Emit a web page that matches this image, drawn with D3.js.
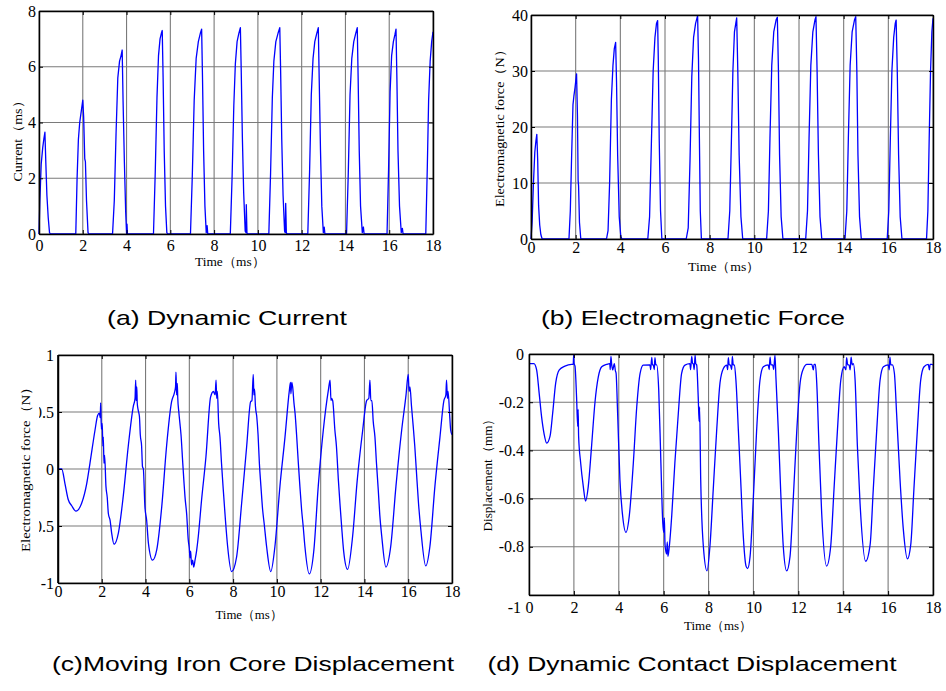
<!DOCTYPE html>
<html><head><meta charset="utf-8">
<script src="https://cdn.jsdelivr.net/npm/d3@7"></script>
<style>body{margin:0;background:#fff}svg{display:block}
.ser{font-family:"Liberation Serif","Times New Roman","DejaVu Serif",serif}
.san{font-family:"Liberation Sans",Arial,sans-serif}
</style>
</head><body>
<svg id="c" width="946" height="691"></svg>
<script>
// ---------- data ----------
const xTicks = [0,2,4,6,8,10,12,14,16,18];
const yTicksA = [0,2,4,6,8];
const yTicksB = [0,10,20,30,40];
const yTicksC = [-1,-0.5,0,0.5,1];
const yTicksD = [-1,-0.8,-0.6,-0.4,-0.2,0];

const captions = ["(a) Dynamic Current","(b) Electromagnetic Force","(c)Moving Iron Core Displacement","(d) Dynamic Contact Displacement"];
const xTitles = ["Time（ms）","Time（ms）","Time（ms）","Time（ms）"];
const yTitles = ["Current（ms）","Electromagnetic force（N）","Electromagnetic force（N）","Displacement（mm）"];

const timeA = [0,0.04,0.1,0.17,0.22,0.27,0.31,0.36,0.42,0.48,0.52,
 1.68,1.74,1.8,1.86,1.93,2.0,2.04,2.09,2.12,2.17,2.24,2.28,
 3.36,3.44,3.52,3.6,3.68,3.75,3.8,3.84,3.9,3.96,4.0,4.02,4.04,4.06,
 5.23,5.31,5.39,5.46,5.53,5.59,5.63,5.67,5.72,5.78,5.84,5.88,
 6.92,7.0,7.09,7.18,7.28,7.37,7.43,7.47,7.52,7.58,7.64,7.68,7.71,7.74,
 8.74,8.82,8.9,8.97,9.05,9.13,9.2,9.24,9.29,9.35,9.42,9.46,9.47,9.5,9.52,
 10.5,10.58,10.66,10.73,10.82,10.92,11.0,11.04,11.09,11.15,11.22,11.25,11.27,11.3,11.33,
 12.28,12.36,12.44,12.52,12.6,12.69,12.76,12.8,12.86,12.92,12.99,13.03,13.06,13.09,
 14.05,14.13,14.21,14.29,14.38,14.47,14.54,14.58,14.63,14.69,14.77,14.82,14.85,14.88,
 15.9,15.97,16.04,16.11,16.19,16.26,16.31,16.35,16.4,16.47,16.55,16.6,16.63,16.66,
 17.67,17.74,17.8,17.87,17.94,18.0];
const currentA = [0,1.2,2.5,3.1,3.4,3.65,2.6,1.4,0.6,0.05,0,
 0,2.0,3.4,4.0,4.4,4.8,4.2,2.7,2.6,1.2,0.05,0,
 0,1.2,3.6,5.6,6.2,6.4,6.6,4.8,2.6,0.8,0.02,0.35,0.02,0,
 0,2.2,4.9,6.4,7.0,7.2,7.3,5.6,3.0,1.0,0.05,0,
 0,2.0,4.8,6.3,6.9,7.2,7.35,5.6,3.0,1.0,0.05,0.3,0,0,
 0,2.0,4.6,6.1,6.9,7.2,7.4,5.8,3.5,1.5,0.1,0.05,1.05,0.05,0,
 0,2.2,4.9,6.2,6.9,7.2,7.4,5.8,3.4,1.4,0.1,0.05,1.1,0.05,0,
 0,2.2,5.0,6.3,6.9,7.2,7.4,5.6,3.0,1.0,0.05,0.25,0.02,0,
 0,2.2,5.0,6.3,6.9,7.2,7.4,5.6,3.0,1.0,0.05,0.25,0.02,0,
 0,2.3,5.1,6.4,6.9,7.15,7.35,5.6,3.0,1.0,0.05,0.2,0.02,0,
 0,2.4,4.8,6.2,6.9,7.25];

const timeB = [0,0.05,0.11,0.17,0.22,0.26,0.3,0.34,0.39,0.44,0.5,
 1.7,1.76,1.82,1.88,1.92,1.97,2.04,2.08,2.11,2.13,2.17,2.23,
 3.38,3.45,3.52,3.6,3.67,3.73,3.79,3.83,3.88,3.95,4.02,4.07,
 5.23,5.31,5.39,5.47,5.55,5.62,5.67,5.7,5.74,5.8,5.86,
 6.95,7.04,7.12,7.2,7.28,7.37,7.46,7.5,7.54,7.58,7.63,
 8.82,8.9,8.97,9.04,9.11,9.17,9.21,9.26,9.32,9.4,9.48,
 10.55,10.63,10.7,10.78,10.87,10.98,11.03,11.08,11.13,11.2,11.28,
 12.3,12.38,12.45,12.53,12.62,12.72,12.76,12.81,12.87,12.94,13.02,
 14.06,14.14,14.21,14.29,14.38,14.49,14.54,14.59,14.64,14.71,14.79,
 15.95,16.02,16.09,16.16,16.24,16.31,16.35,16.4,16.46,16.53,16.61,
 17.71,17.77,17.83,17.89,17.95,18.0];
const forceB = [0,3,10,15.5,17.5,18.7,14,6,2.5,0.8,0,
 0,5,15,24,25.5,27,29.5,22,10.5,9.5,3,0,
 0,1.5,10,25,31,34,35.1,28,15,4,0.5,0,
 0,4,17,30,36,38.5,39,32,18,5,0,
 0,2,14,29,36,38.5,39.9,32,18,5,0,
 0,5,17,30,37,38.5,39.5,30,15,4,0,
 0,5,18,31,37,39.2,39.6,30,15,4,0,
 0,5,18,31,37,39.2,39.7,30,15,4,0,
 0,5,18,31,37,39.2,39.7,30,15,4,0,
 0,5,18,30,36,38.5,39.1,30,15,4,0,
 0,5,18,30,37,39.4];

const timeC = [0,0.17,0.32,0.47,0.62,0.82,1.08,1.31,1.46,1.69,1.81,1.89,1.93,1.95,1.98,2.02,2.05,2.07,2.1,2.13,2.19,2.25,2.3,2.38,2.45,2.56,2.76,2.98,3.21,3.44,3.52,3.55,3.57,3.6,3.62,3.66,3.72,3.76,3.82,3.86,3.9,3.97,4.05,4.13,4.32,4.51,4.74,4.96,5.19,5.32,5.37,5.39,5.42,5.45,5.47,5.52,5.57,5.62,5.7,5.75,5.8,5.88,5.95,6.0,6.03,6.06,6.1,6.15,6.2,6.26,6.33,6.41,6.56,6.76,6.97,7.1,7.18,7.22,7.25,7.28,7.34,7.4,7.47,7.55,7.65,7.75,7.93,
 8.16,8.39,8.62,8.8,8.86,8.92,8.95,8.98,9.02,9.08,9.14,9.2,9.27,9.35,9.42,9.53,9.72,9.91,10.14,10.37,10.57,10.62,10.64,10.68,10.72,10.78,10.83,10.9,10.98,11.05,11.13,11.2,11.28,11.48,11.69,11.89,12.12,12.35,12.43,12.47,12.5,12.55,12.65,12.72,12.81,12.88,12.96,13.05,13.23,13.46,13.67,13.92,14.1,14.2,14.25,14.29,14.34,14.4,14.48,14.55,14.63,14.7,14.79,14.98,15.2,15.44,15.7,15.9,16.0,16.04,16.08,16.15,16.23,16.3,16.38,16.47,16.58,16.8,16.99,17.22,17.45,17.63,17.72,17.75,17.79,17.82,17.9,17.94,18.0];
const forceC = [0,0,-0.13,-0.27,-0.32,-0.37,-0.3,-0.13,0.05,0.34,0.47,0.49,0.45,0.58,0.35,0.4,0.2,0.28,0.05,0.12,-0.15,-0.25,-0.39,-0.45,-0.56,-0.66,-0.56,-0.24,0.2,0.55,0.62,0.78,0.6,0.72,0.58,0.52,0.46,0.3,0.2,0.02,0.0,-0.33,-0.45,-0.65,-0.8,-0.71,-0.33,0.2,0.59,0.67,0.72,0.85,0.65,0.75,0.63,0.5,0.4,0.3,0.05,-0.1,-0.24,-0.4,-0.62,-0.7,-0.78,-0.72,-0.84,-0.8,-0.86,-0.8,-0.72,-0.59,-0.27,0.11,0.63,0.68,0.65,0.78,0.62,0.68,0.4,0.28,0.05,-0.18,-0.45,-0.68,-0.9,
 -0.77,-0.3,0.2,0.59,0.6,0.83,0.65,0.7,0.55,0.46,0.3,0.05,-0.15,-0.36,-0.48,-0.68,-0.9,-0.68,-0.15,0.28,0.69,0.76,0.66,0.76,0.72,0.58,0.49,0.3,0.05,-0.15,-0.36,-0.5,-0.68,-0.92,-0.71,-0.15,0.34,0.69,0.78,0.6,0.62,0.6,0.34,0.2,-0.1,-0.3,-0.51,-0.72,-0.88,-0.59,-0.1,0.34,0.6,0.62,0.78,0.6,0.6,0.42,0.28,0.05,-0.18,-0.4,-0.59,-0.86,-0.68,-0.15,0.34,0.65,0.83,0.68,0.72,0.55,0.37,0.2,-0.04,-0.3,-0.54,-0.85,-0.68,-0.15,0.28,0.6,0.65,0.78,0.62,0.68,0.45,0.34,0.3];

const timeD = [0,0.22,0.34,0.45,0.56,0.67,0.79,0.94,1.05,1.19,1.35,1.6,1.9,1.97,1.99,2.01,2.05,2.12,2.17,2.19,2.21,2.3,2.42,2.52,2.64,2.79,2.94,3.09,3.24,3.46,3.6,3.62,3.65,3.68,3.73,3.8,3.85,3.88,3.95,4.05,4.17,4.32,4.47,4.65,4.8,4.95,5.09,5.39,5.42,5.47,5.5,5.54,5.58,5.61,5.65,5.69,5.78,5.87,5.96,6.0,6.03,6.06,6.13,6.16,6.19,6.25,6.36,6.5,6.65,6.8,6.95,7.17,7.2,7.25,7.29,7.32,7.36,7.4,7.43,7.47,7.54,7.58,7.6,7.65,7.77,7.93,
 8.06,8.21,8.36,8.51,8.66,8.81,8.85,8.88,8.92,8.97,9.03,9.06,9.1,9.15,9.22,9.33,9.43,9.55,9.67,9.74,9.85,10.0,10.14,10.29,10.44,10.66,10.7,10.74,10.78,10.86,10.9,10.96,11.0,11.11,11.21,11.33,11.48,11.63,11.78,11.93,12.08,12.23,12.38,12.6,12.67,12.7,12.76,12.82,12.92,13.04,13.26,13.44,13.59,13.74,13.89,14.04,14.12,14.15,14.2,14.26,14.31,14.35,14.4,14.45,14.53,14.63,14.75,15.0,15.2,15.34,15.49,15.64,15.79,16.01,16.05,16.08,16.12,16.19,16.28,16.38,16.53,16.68,16.86,17.01,17.15,17.3,17.45,17.6,17.79,17.84,17.87,17.94,18.0];
const dispD = [-0.04,-0.04,-0.066,-0.16,-0.26,-0.33,-0.37,-0.34,-0.25,-0.12,-0.066,-0.05,-0.043,-0.043,-0.005,-0.04,-0.05,-0.18,-0.3,-0.23,-0.34,-0.45,-0.55,-0.61,-0.55,-0.38,-0.2,-0.094,-0.053,-0.043,-0.04,-0.065,-0.01,-0.04,-0.066,-0.04,-0.07,-0.08,-0.25,-0.52,-0.67,-0.74,-0.67,-0.45,-0.22,-0.08,-0.046,-0.045,-0.065,-0.014,-0.045,-0.045,-0.065,-0.015,-0.045,-0.045,-0.15,-0.43,-0.7,-0.74,-0.68,-0.79,-0.83,-0.78,-0.84,-0.8,-0.67,-0.45,-0.25,-0.08,-0.046,-0.04,-0.065,-0.01,-0.04,-0.04,-0.065,-0.005,-0.04,-0.045,-0.18,-0.28,-0.22,-0.52,-0.8,-0.9,
 -0.8,-0.56,-0.32,-0.12,-0.06,-0.046,-0.065,-0.015,-0.045,-0.045,-0.065,-0.01,-0.045,-0.046,-0.11,-0.32,-0.52,-0.76,-0.88,-0.89,-0.84,-0.59,-0.32,-0.11,-0.053,-0.045,-0.065,-0.013,-0.045,-0.045,-0.065,-0.005,-0.094,-0.32,-0.56,-0.8,-0.9,-0.84,-0.59,-0.32,-0.12,-0.06,-0.043,-0.043,-0.066,-0.043,-0.043,-0.12,-0.38,-0.66,-0.88,-0.8,-0.56,-0.32,-0.11,-0.053,-0.066,-0.015,-0.045,-0.045,-0.066,-0.013,-0.045,-0.04,-0.11,-0.38,-0.62,-0.86,-0.79,-0.56,-0.32,-0.11,-0.053,-0.045,-0.066,-0.013,-0.045,-0.045,-0.08,-0.25,-0.52,-0.73,-0.85,-0.79,-0.56,-0.32,-0.11,-0.053,-0.043,-0.066,-0.043,-0.043,-0.045];

// ---------- drawing ----------
const svg = d3.select('#c');

const panels = [
 {t:timeA, v:currentA, yDomain:[0,8], yTicks:yTicksA, left:39, right:433, top:11, bottom:234, xBase:17, yPad:3, smooth:false,
  xt:{x:230, y:266, len:70}, yt:{x:17, y:138, len:87}, cap:{x:227, y:325, len:240}},
 {t:timeB, v:forceB, yDomain:[0,40], yTicks:yTicksB, left:531, right:933, top:15, bottom:239, xBase:14, yPad:3, smooth:false,
  xt:{x:724, y:271, len:72}, yt:{x:499, y:125, len:164}, cap:{x:693, y:325, len:304}},
 {t:timeC, v:forceC, yDomain:[-1,1], yTicks:yTicksC, left:58, right:452, top:355, bottom:583, xBase:14, yPad:4, clip:true, smooth:true,
  xt:{x:249, y:619, len:67}, yt:{x:25, y:466, len:172}, cap:{x:253, y:671, len:402}},
 {t:timeD, v:dispD, yDomain:[-1,0], yTicks:yTicksD, left:529, right:933, top:354, bottom:595, xBase:18, yPad:5, lowShift:12, lowPad:8, smooth:true,
  xt:{x:718, y:630, len:68}, yt:{x:487, y:472, len:119}, cap:{x:692, y:671, len:409}}
];

svg.append('defs').append('clipPath').attr('id','clipC')
  .append('rect').attr('x',39).attr('y',330).attr('width',60).attr('height',280);

panels.forEach((p, k) => {
  const x = d3.scaleLinear().domain([0,18]).range([p.left,p.right]);
  const y = d3.scaleLinear().domain(p.yDomain).range([p.bottom,p.top]);
  const g = svg.append('g');

  // grid
  g.append('g').selectAll('line').data(xTicks).join('line')
    .attr('x1',d=>x(d)).attr('x2',d=>x(d)).attr('y1',p.top).attr('y2',p.bottom)
    .attr('stroke','#7a7a7a').attr('stroke-width',1.1);
  g.append('g').selectAll('line').data(p.yTicks).join('line')
    .attr('y1',d=>y(d)).attr('y2',d=>y(d)).attr('x1',p.left).attr('x2',p.right)
    .attr('stroke','#7a7a7a').attr('stroke-width',1.1);

  // series
  const idx = d3.range(p.t.length);
  const line = d3.line().x(i=>x(p.t[i])).y(i=>y(p.v[i]));
  if (p.smooth) line.curve(d3.curveMonotoneX);
  g.append('path').datum(idx)
    .attr('d', line)
    .attr('fill','none').attr('stroke','#0000ff').attr('stroke-width',1.3).attr('stroke-linejoin','round');

  const fs = 16;
  // axes
  g.append('g').attr('transform',`translate(0,${p.bottom})`)
    .call(d3.axisBottom(x).tickValues(xTicks).tickSizeInner(-4).tickSizeOuter(0).tickPadding(p.xBase - 0.71*fs).tickFormat(d=>String(d)));
  const holder = g.append('g');
  if (p.clip) holder.attr('clip-path','url(#clipC)');
  const ay = holder.append('g').attr('transform',`translate(${p.left},0)`)
    .call(d3.axisLeft(y).tickValues(p.yTicks).tickSizeInner(-4).tickSizeOuter(0).tickPadding(p.yPad).tickFormat(d=>String(d)));
  g.append('g').attr('transform',`translate(0,${p.top})`)
    .call(d3.axisTop(x).tickValues(xTicks).tickSizeInner(-4).tickSizeOuter(0).tickFormat(''));
  g.append('g').attr('transform',`translate(${p.right},0)`)
    .call(d3.axisRight(y).tickValues(p.yTicks).tickSizeInner(-4).tickSizeOuter(0).tickFormat(''));
  if (p.clip) {
    g.append('line').attr('x1',p.left).attr('x2',p.left).attr('y1',p.top).attr('y2',p.bottom)
      .attr('stroke','#000').attr('stroke-width',1.5);
  }
  g.selectAll('.domain').attr('stroke','#000').attr('stroke-width',1.5);
  g.selectAll('.tick line').attr('stroke','#000').attr('stroke-width',1);
  g.selectAll('.tick text').attr('class','ser').attr('font-family',null).attr('font-size',null)
    .style('font-size', fs + 'px').attr('fill','#000');
  if (p.lowShift) ay.selectAll('.tick text').filter(d=>d===p.yDomain[0]).attr('y',p.lowShift).attr('x',-p.lowPad);

  // axis titles
  svg.append('text').attr('class','ser').attr('x',p.xt.x).attr('y',p.xt.y).attr('text-anchor','middle')
    .style('font-size','13px').attr('textLength',p.xt.len).attr('lengthAdjust','spacingAndGlyphs')
    .text(xTitles[k]);
  svg.append('text').attr('class','ser').attr('transform',`translate(${p.yt.x},${p.yt.y}) rotate(-90)`).attr('text-anchor','middle')
    .attr('dy','0.35em').style('font-size','13px')
    .attr('textLength',p.yt.len).attr('lengthAdjust','spacingAndGlyphs')
    .text(yTitles[k]);
  // caption
  svg.append('text').attr('class','san').attr('x',p.cap.x).attr('y',p.cap.y).attr('text-anchor','middle')
    .style('font-size','21px').attr('textLength',p.cap.len).attr('lengthAdjust','spacingAndGlyphs')
    .text(captions[k]);
});
</script>
</body></html>
